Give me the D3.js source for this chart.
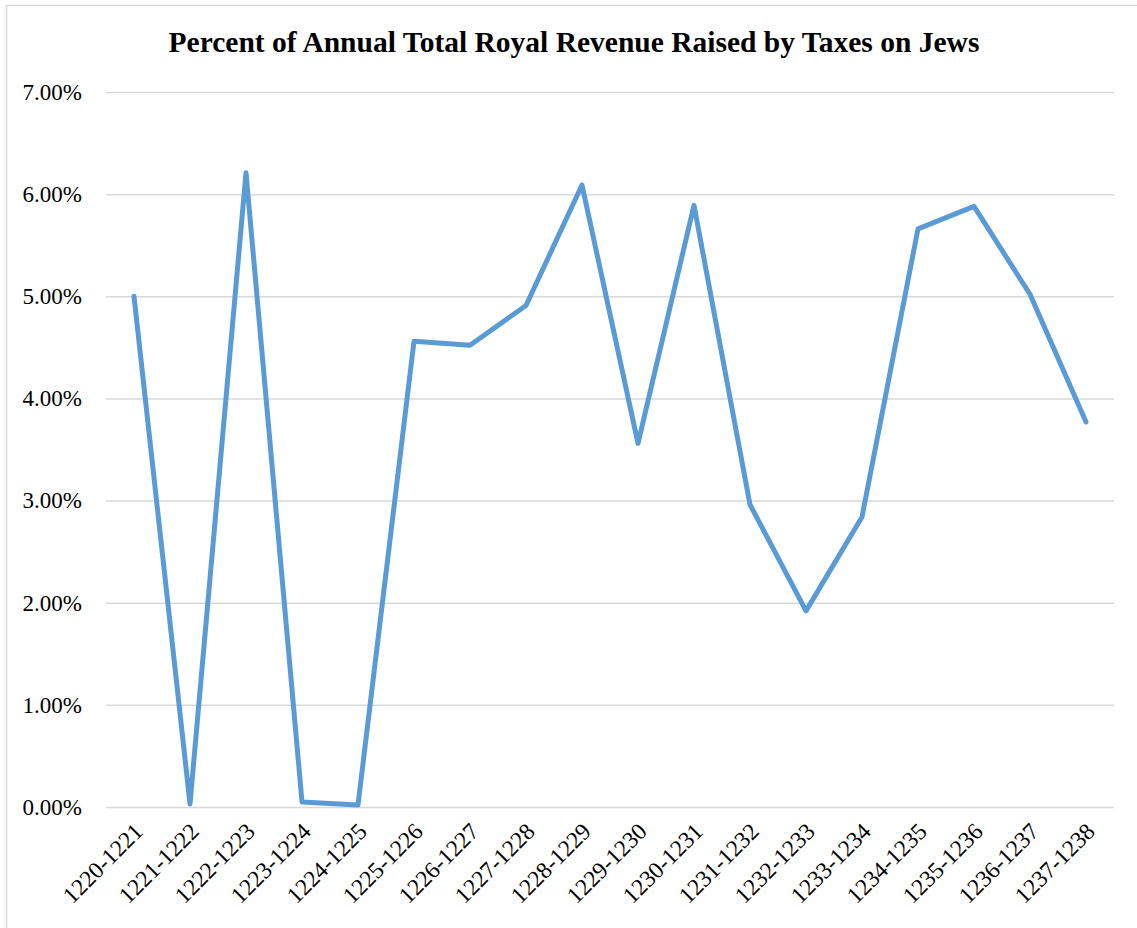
<!DOCTYPE html>
<html>
<head>
<meta charset="utf-8">
<script src="https://cdn.jsdelivr.net/npm/d3@7"></script>
<style>
  body { margin: 0; background: #fff; }
  svg { display: block; }
</style>
</head>
<body>
<main></main>
<script>
const width = 1137;
const height = 928;
const margin = { top: 92, right: 23, bottom: 121, left: 106 };
const serif = '"Liberation Serif", "Times New Roman", serif';

const titleText = 'Percent of Annual Total Royal Revenue Raised by Taxes on Jews';

const periods = [
  '1220-1221', '1221-1222', '1222-1223', '1223-1224', '1224-1225', '1225-1226',
  '1226-1227', '1227-1228', '1228-1229', '1229-1230', '1230-1231', '1231-1232',
  '1232-1233', '1233-1234', '1234-1235', '1235-1236', '1236-1237', '1237-1238'
];

// percent of revenue
const shares = [
  5.00, 0.03, 6.21, 0.05, 0.02, 4.56,
  4.52, 4.91, 6.09, 3.56, 5.89, 2.96,
  1.92, 2.84, 5.66, 5.88, 5.02, 3.77
];

const yTicks = [0, 1, 2, 3, 4, 5, 6, 7];

const data = periods.map((p, i) => ({ period: p, value: shares[i] }));

const svg = d3.select('main')
  .append('svg')
  .attr('width', width)
  .attr('height', height);

// chart border
svg.append('rect')
  .attr('x', 6.5)
  .attr('y', 5.5)
  .attr('width', width + 10)
  .attr('height', height + 10)
  .style('fill', 'none')
  .style('stroke', '#d9d9d9')
  .style('stroke-width', 1.5);

const xScale = d3.scalePoint()
  .domain(periods)
  .range([margin.left, width - margin.right])
  .padding(0.5);

const yScale = d3.scaleLinear()
  .domain([0, 7])
  .range([height - margin.bottom, margin.top]);

// Title
svg.append('text')
  .text(titleText)
  .attr('x', 574)
  .attr('y', 52)
  .style('text-anchor', 'middle')
  .style('font-family', serif)
  .style('font-weight', 'bold')
  .style('font-size', '29.5px')
  .style('fill', '#000');

// y-axis with gridlines
const yAxis = d3.axisLeft(yScale)
  .tickValues(yTicks)
  .tickSize(-(width - margin.left - margin.right))
  .tickPadding(24)
  .tickFormat(d => d3.format('.2f')(d) + '%');

const yG = svg.append('g')
  .attr('transform', `translate(${margin.left}, 0)`)
  .call(yAxis);

yG.select('.domain').remove();
yG.selectAll('line')
  .style('stroke', '#d9d9d9')
  .style('stroke-width', 1.5);
yG.selectAll('text')
  .style('font-family', serif)
  .style('font-size', '23px')
  .style('fill', '#000');

// x-axis labels
const xAxis = d3.axisBottom(xScale)
  .tickSize(0)
  .tickPadding(0);

const xG = svg.append('g')
  .attr('transform', `translate(0, ${height - margin.bottom})`)
  .call(xAxis);

xG.select('.domain').remove();
xG.selectAll('text')
  .attr('transform', 'translate(4, 20) rotate(-45)')
  .attr('dy', '0.35em')
  .style('text-anchor', 'end')
  .style('font-family', serif)
  .style('font-size', '23.5px')
  .style('fill', '#000');

// line
const line = d3.line()
  .x(d => xScale(d.period))
  .y(d => yScale(d.value));

svg.append('path')
  .datum(data)
  .attr('d', line)
  .style('fill', 'none')
  .style('stroke', '#5b9bd5')
  .style('stroke-width', 5)
  .style('stroke-linejoin', 'round')
  .style('stroke-linecap', 'round');
</script>
</body>
</html>
